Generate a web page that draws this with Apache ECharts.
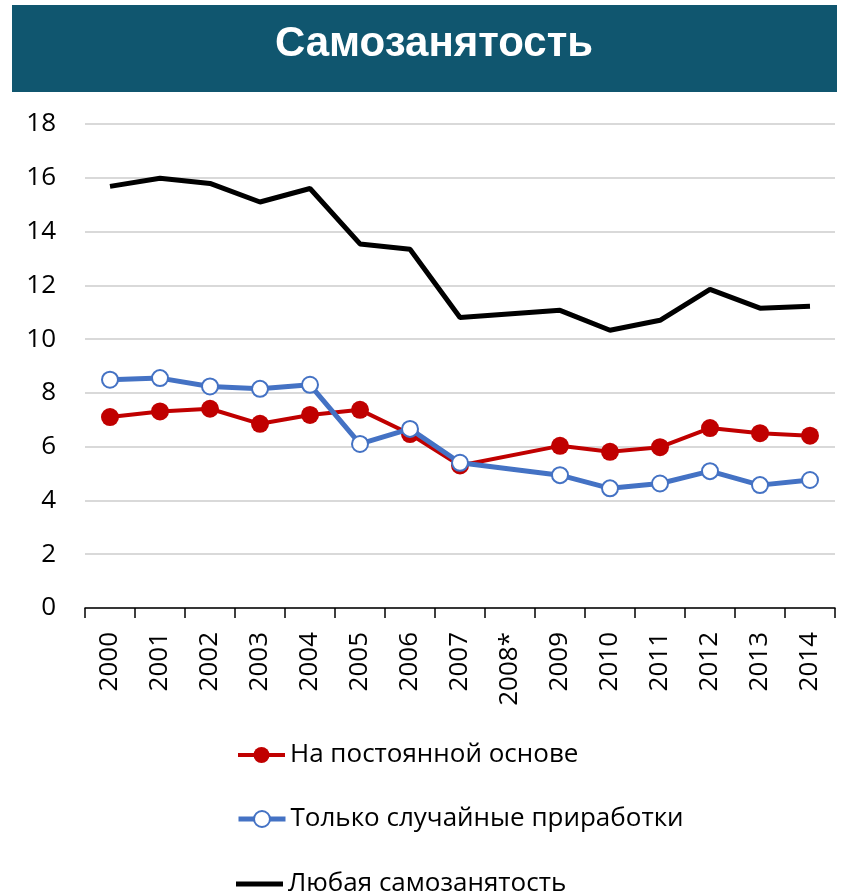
<!DOCTYPE html>
<html>
<head>
<meta charset="utf-8">
<script src="https://cdn.jsdelivr.net/npm/echarts@6/dist/echarts.min.js"></script>
<style>
  html, body { margin: 0; padding: 0; background: #fff; }
  #chart { width: 849px; height: 895px; }
</style>
</head>
<body>
<div id="chart"></div>
<script>
// годы и ряды (2008* — нет данных по подгруппам)
var years = ['2000', '2001', '2002', '2003', '2004', '2005', '2006', '2007', '2008*',
  '2009', '2010', '2011', '2012', '2013', '2014'];
var permanent = [7.10, 7.31, 7.41, 6.85, 7.18, 7.37, 6.47, 5.30, null,
  6.03, 5.81, 5.98, 6.69, 6.50, 6.41];
var occasional = [8.49, 8.55, 8.24, 8.15, 8.30, 6.10, 6.66, 5.40, null,
  4.94, 4.45, 4.63, 5.09, 4.57, 4.76];
var anySelf = [15.68, 15.98, 15.79, 15.10, 15.60, 13.54, 13.34, 10.80, null,
  11.07, 10.33, 10.70, 11.85, 11.15, 11.22];
var names = ['На постоянной основе', 'Только случайные приработки', 'Любая самозанятость'];

var chart = echarts.init(document.getElementById('chart'));
var font = 'Open Sans';
var legendText = { fontSize: 26, color: '#000', fontFamily: font };

var option = {
  animation: false,
  backgroundColor: '#fff',
  graphic: [
    {
      type: 'rect',
      shape: { x: 12, y: 5, width: 825, height: 87 },
      style: { fill: '#10566f' },
      z: 0
    },
    {
      type: 'text',
      x: 434,
      y: 44,
      z: 1,
      style: {
        text: 'Самозанятость',
        fill: '#fff',
        font: 'bold 42px "Liberation Sans"',
        align: 'center',
        verticalAlign: 'middle'
      }
    }
  ],
  // по одной легенде на строку, чтобы не переносилось во второй столбец
  legend: [
    {
      left: 236, top: 742, padding: 0, itemWidth: 47, itemHeight: 20, itemGap: 0,
      lineStyle: { width: 4 },
      data: [names[0]], textStyle: legendText
    },
    {
      left: 236, top: 806, padding: 0, itemWidth: 47, itemHeight: 20, itemGap: 0,
      lineStyle: { width: 5 },
      data: [names[1]], textStyle: legendText
    },
    {
      left: 236, top: 871, padding: 0, itemWidth: 47, itemHeight: 5, itemGap: 0,
      icon: 'rect',
      itemStyle: { color: '#000' },
      data: [names[2]], textStyle: legendText
    }
  ],
  grid: { left: 85, right: 14, top: 124, bottom: 287 },
  xAxis: {
    type: 'category',
    data: years,
    boundaryGap: true,
    axisLine: { lineStyle: { color: '#000', width: 1.5 } },
    axisTick: { show: true, length: 10, lineStyle: { color: '#000', width: 1.5 } },
    axisLabel: { rotate: 90, fontSize: 26, color: '#000', fontFamily: font, margin: 24, interval: 0 }
  },
  yAxis: {
    type: 'value',
    min: 0,
    max: 18,
    interval: 2,
    axisLine: { show: false },
    axisTick: { show: false },
    splitLine: { lineStyle: { color: '#d9d9d9', width: 2 } },
    axisLabel: { fontSize: 26, color: '#000', fontFamily: font, margin: 29 }
  },
  series: [
    {
      name: names[0],
      type: 'line',
      data: permanent,
      connectNulls: true,
      symbol: 'circle',
      symbolSize: 18,
      itemStyle: { color: '#c00000' },
      lineStyle: { color: '#c00000', width: 4 },
      z: 3
    },
    {
      name: names[1],
      type: 'line',
      data: occasional,
      connectNulls: true,
      symbol: 'circle',
      symbolSize: 16,
      itemStyle: { color: '#fff', borderColor: '#4472c4', borderWidth: 2 },
      lineStyle: { color: '#4472c4', width: 5 },
      z: 4
    },
    {
      name: names[2],
      type: 'line',
      data: anySelf,
      connectNulls: true,
      symbol: 'none',
      itemStyle: { color: '#000' },
      lineStyle: { color: '#000', width: 5 },
      z: 2
    }
  ]
};

chart.setOption(option);
</script>
</body>
</html>
